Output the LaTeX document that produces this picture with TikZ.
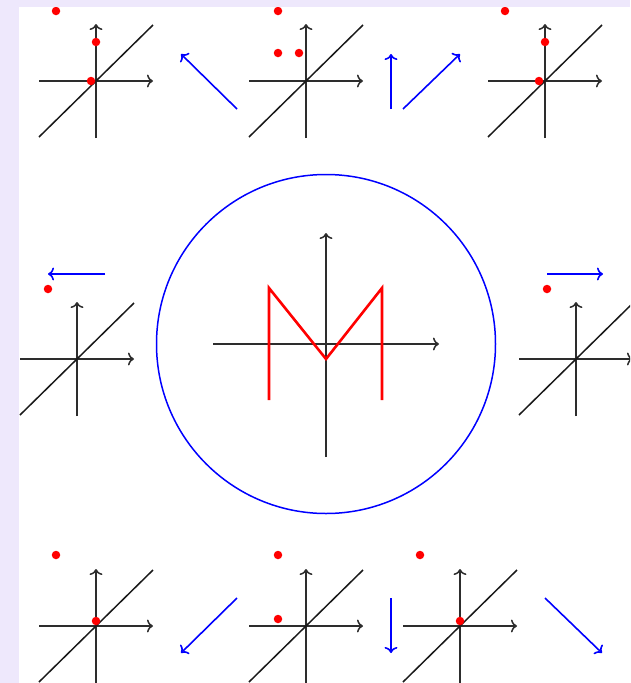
\documentclass[tikz,border=0pt]{standalone}
\usetikzlibrary{arrows.meta}
\definecolor{lav}{RGB}{238,232,252}
\definecolor{axgray}{RGB}{45,45,45}
\tikzset{
  axis/.style={draw=axgray,line width=1.5pt,-{To[length=6pt,width=13pt]}},
  diag/.style={draw=black!90,line width=1.5pt},
  move/.style={draw=blue,line width=1.6pt,-{To[length=6pt,width=13pt]}},
  dot/.style={circle,fill=red,inner sep=0pt,minimum size=8.5pt},
  mline/.style={draw=red,line width=2.6pt,line join=miter},
  ring/.style={draw=blue,line width=1.5pt},
  plotpic/.pic={
    \draw[axis] (-57,0) -- (57,0);
    \draw[axis] (0,57) -- (0,-57);
    \draw[diag] (-57,56) -- (57,-56);
  }
}
\begin{document}
\begin{tikzpicture}[x=1pt,y=-1pt]
\useasboundingbox (0,0) rectangle (630,683);
\fill[lav] (0,0) rectangle (630,683);
\fill[white] (19,7) rectangle (630,683);
\begin{scope}
\clip (19,7) rectangle (630,683);
% top row plots
\pic at (96,81) {plotpic};
\pic at (306,81) {plotpic};
\pic at (545,81) {plotpic};
% middle row plots
\pic at (77,359) {plotpic};
\pic at (576,359) {plotpic};
% bottom row plots
\pic at (96,626) {plotpic};
\pic at (306,626) {plotpic};
\pic at (460,626) {plotpic};
% dots
\node[dot] (d1a) at (56,11) {};
\node[dot] (d1b) at (96,42) {};
\node[dot] (d1c) at (91,81) {};
\node[dot] (d2a) at (278,11) {};
\node[dot] (d2b) at (278,53) {};
\node[dot] (d2c) at (299,53) {};
\node[dot] (d3a) at (505,11) {};
\node[dot] (d3b) at (545,42) {};
\node[dot] (d3c) at (539,81) {};
\node[dot] (d4) at (48,289) {};
\node[dot] (d5) at (547,289) {};
\node[dot] (d6a) at (56,555) {};
\node[dot] (d6b) at (96,621) {};
\node[dot] (d7a) at (278,555) {};
\node[dot] (d7b) at (278,619) {};
\node[dot] (d8a) at (420,555) {};
\node[dot] (d8b) at (460,621) {};
% blue arrows
\coordinate (a1s) at (237,109); \coordinate (a1e) at (181,54);
\coordinate (a2s) at (391,109); \coordinate (a2e) at (391,54);
\coordinate (a3s) at (403,109); \coordinate (a3e) at (460,54);
\coordinate (a4s) at (105,274); \coordinate (a4e) at (48,274);
\coordinate (a5s) at (547,274); \coordinate (a5e) at (603,274);
\coordinate (a6s) at (237,598); \coordinate (a6e) at (181,653);
\coordinate (a7s) at (391,598); \coordinate (a7e) at (391,653);
\coordinate (a8s) at (545,598); \coordinate (a8e) at (602,653);
\foreach \i in {1,...,8}{\draw[move] (a\i s) -- (a\i e);}
% centre
\coordinate (c) at (326,344);
\draw[ring] (c) circle[radius=169.5];
\draw[axis] (213,344) -- (439,344);
\draw[axis] (326,457) -- (326,233);
\draw[mline] (269,400) -- (269,288) -- (326,359) -- (382,288) -- (382,400);
\end{scope}
\end{tikzpicture}
\end{document}
